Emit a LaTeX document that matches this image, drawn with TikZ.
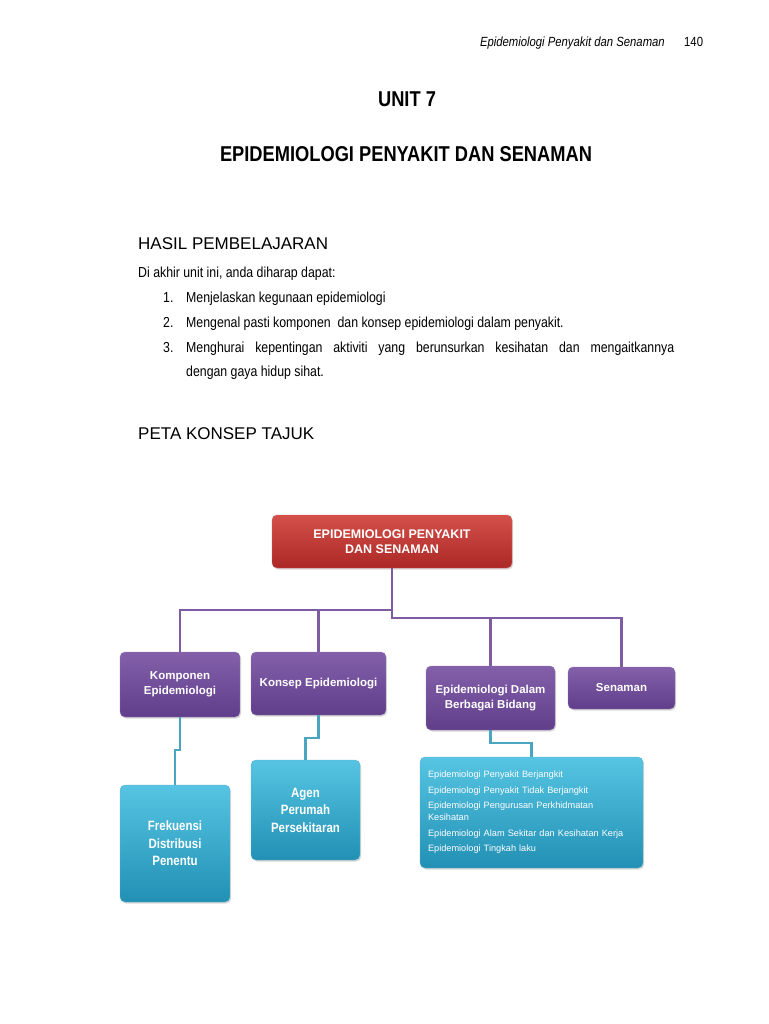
\documentclass[tikz,border=0pt]{standalone}
\usepackage{fontspec}
\setmainfont{Liberation Sans}
\newfontfamily\narrowfont[FakeStretch=0.85]{Liberation Sans}
\usetikzlibrary{calc,shadows}

\definecolor{redtop}{RGB}{212,80,74}
\definecolor{redbot}{RGB}{172,40,38}
\definecolor{violettop}{RGB}{132,96,170}
\definecolor{violetbot}{RGB}{96,62,138}
\definecolor{tealtop}{RGB}{86,196,226}
\definecolor{tealbot}{RGB}{34,144,180}
\definecolor{violetline}{RGB}{126,92,162}
\definecolor{tealline}{RGB}{74,166,192}

\begin{document}
\begin{tikzpicture}[x=1pt,y=-1pt,
  body/.style={anchor=base west,inner sep=0pt,font=\narrowfont\fontsize{14.5}{17}\selectfont},
  heading/.style={anchor=base west,inner sep=0pt,font=\fontsize{17}{20}\selectfont},
  box/.style={rounded corners=5pt,align=center,text=white,inner sep=2pt,
    drop shadow={opacity=0.3,shadow xshift=1.2pt,shadow yshift=-1.5pt}},
  redbox/.style={box,top color=redtop,bottom color=redbot,draw=redbot!70!white,
    font=\bfseries\fontsize{12.5}{15.5}\selectfont},
  violetbox/.style={box,top color=violettop,bottom color=violetbot,draw=violetbot!70!white,
    font=\bfseries\fontsize{11.5}{14.5}\selectfont},
  tealbox/.style={box,top color=tealtop,bottom color=tealbot,draw=tealbot!70!white,
    font=\narrowfont\bfseries\fontsize{13.5}{17.5}\selectfont},
  violetlink/.style={line width=2.4pt,violetline},
  teallink/.style={line width=2.4pt,tealline}]
\useasboundingbox (0,0) rectangle (768,1024);

% page head
\node[anchor=base east,inner sep=0pt,font=\narrowfont\itshape\fontsize{13.3}{15}\selectfont] (header) at (665,47) {Epidemiologi Penyakit dan Senaman};
\node[anchor=base west,inner sep=0pt,font=\narrowfont\fontsize{13.3}{15}\selectfont] (pagenum) at (684,47) {140};

\node[anchor=base,inner sep=0pt,font=\narrowfont\bfseries\fontsize{21.5}{24}\selectfont] (unit) at (407,107) {UNIT 7};
\node[anchor=base,inner sep=0pt,font=\narrowfont\bfseries\fontsize{21.5}{24}\selectfont] (title) at (406,162) {EPIDEMIOLOGI PENYAKIT DAN SENAMAN};

\node[heading] (hasil) at (138,249) {HASIL PEMBELAJARAN};
\node[body] (intro) at (138,277) {Di akhir unit ini, anda diharap dapat:};

\node[body] (n1) at (163,302) {1.};
\node[body] (item1) at (186,302) {Menjelaskan kegunaan epidemiologi};
\node[body] (n2) at (163,327) {2.};
\node[body] (item2) at (186,327) {Mengenal pasti komponen\ \ dan konsep epidemiologi dalam penyakit.};
\node[body] (n3) at (163,352) {3.};
\node[body] (item3) at (186,352) {\makebox[488pt][s]{Menghurai kepentingan aktiviti yang berunsurkan kesihatan dan mengaitkannya}};
\node[body] (item3b) at (186,376) {dengan gaya hidup sihat.};

\node[heading] (peta) at (138,439) {PETA KONSEP TAJUK};

% concept map
\node[redbox,minimum width=240,minimum height=53] (top) at (392,541.5) {EPIDEMIOLOGI PENYAKIT\\DAN SENAMAN};

\node[violetbox,minimum width=120,minimum height=65] (komponen) at (180,684.5) {Komponen\\Epidemiologi};
\node[violetbox,minimum width=135,minimum height=63] (konsep) at (318.5,683.5) {Konsep Epidemiologi};
\node[violetbox,minimum width=129,minimum height=64] (dalam) at (490.5,698) {Epidemiologi Dalam\\Berbagai Bidang};
\node[violetbox,minimum width=107,minimum height=42] (senaman) at (621.5,688) {Senaman};

\node[tealbox,minimum width=110,minimum height=117] (frekuensi) at (175,843.5) {Frekuensi\\Distribusi\\Penentu};
\node[tealbox,minimum width=109,minimum height=100] (agen) at (305.5,810) {Agen\\Perumah\\Persekitaran};
\node[tealbox,minimum height=111,text width=207,inner xsep=8pt,align=left,
  font=\fontsize{9.2}{12}\selectfont] (bidang) at (531.5,812.5) {Epidemiologi Penyakit Berjangkit\\[3.5pt]
  Epidemiologi Penyakit Tidak Berjangkit\\[3.5pt]
  Epidemiologi Pengurusan Perkhidmatan\\Kesihatan\\[3.5pt]
  Epidemiologi Alam Sekitar dan Kesihatan Kerja\\[3.5pt]
  Epidemiologi Tingkah laku};

\coordinate (lbus) at (392,610);
\coordinate (rbus) at (392,618);
\draw[violetlink] (top.south) -- (rbus) -| (senaman.north);
\draw[violetlink] (komponen.north) |- (lbus);
\draw[violetlink] (konsep.north) -- (konsep.north |- lbus);
\draw[violetlink] (dalam.north) -- (dalam.north |- rbus);

\draw[teallink] (komponen.south) -- ++(0,33) -| (frekuensi.north);
\draw[teallink] (konsep.south) -- ++(0,23) -| (agen.north);
\draw[teallink] (dalam.south) -- ++(0,13) -| (bidang.north);

\end{tikzpicture}
\end{document}
